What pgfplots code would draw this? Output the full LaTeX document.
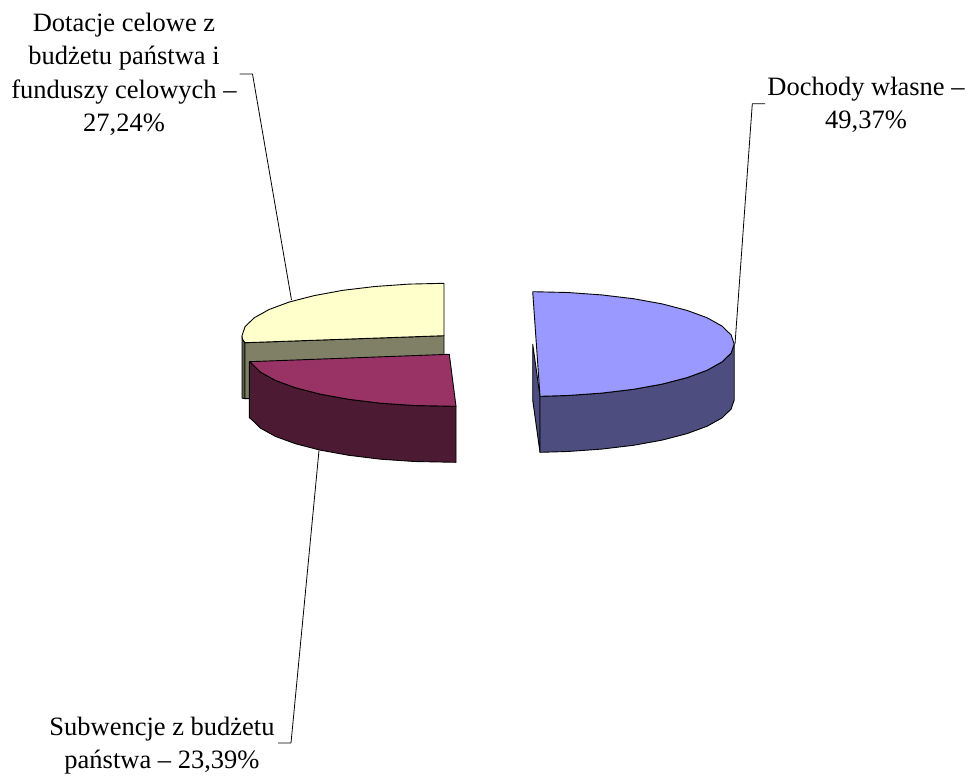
\documentclass[border=0pt]{standalone}
\usepackage{pgfplots}
\pgfplotsset{compat=1.18}
\usepackage{fontspec}
\setmainfont{Liberation Serif}
\definecolor{bluetop}{HTML}{9999FF}
\definecolor{blueside}{HTML}{4D4D80}
\definecolor{yellowtop}{HTML}{FFFFCC}
\definecolor{yellowside}{HTML}{808066}
\definecolor{yellowdark}{HTML}{5C5C49}
\definecolor{maroontop}{HTML}{993366}
\definecolor{maroonside}{HTML}{4D1A33}
\begin{document}
\begin{tikzpicture}
\begin{axis}[
  scale only axis, width=971pt, height=776pt,
  xmin=0, xmax=971, ymin=0, ymax=776, y dir=reverse,
  hide axis, clip=false,
  every axis plot/.append style={line width=0.9pt, line join=round, draw=black},
]
\path (axis cs:0,0) rectangle (axis cs:971,776);
% leader lines
\addplot[line width=0.8pt] coordinates {(239.5,74) (252.5,74) (291.5,300)};
\addplot[line width=0.8pt] coordinates {(278,743) (291,743) (319,450.5)};
\addplot[line width=0.8pt] coordinates {(765,103.7) (752.3,103.7) (735,344)};
% Dotacje celowe: sides
\addplot[fill=yellowdark] coordinates {(242,335.7) (242.5,339.3) (245,342.7) (245,398.7) (242,398) (242,335.7)};
\addplot[fill=yellowside] coordinates {(245,342.7) (444,335.7) (444,391.7) (245,398.7) (245,342.7)};
\addplot[fill=yellowtop] coordinates {(444,283.3) (408.9,284.1) (374.9,286.5) (343,290.3) (314.2,295.6) (289.3,302) (269.1,309.5) (254.2,317.8) (245.1,326.6) (242,335.7) (242.5,339.3) (245,342.7) (444,335.7) (444,283.3)};
% Subwencje: side and top
\addplot[fill=maroonside] coordinates {(249.3,361.7) (251.4,363.3) (260.4,372.1) (275.2,380.3) (295.3,387.7) (320.1,394.1) (348.8,399.3) (380.6,403.2) (414.4,405.5) (456,406.3) (456,462.3) (414.4,461.5) (380.6,459.2) (348.8,455.3) (320.1,450.1) (295.3,443.7) (275.2,436.3) (260.4,428.1) (251.4,419.3) (249.3,417.7) (249.3,361.7)};
\addplot[fill=maroontop] coordinates {(249.3,361.7) (449.3,354.3) (456,406.3) (414.4,405.5) (380.6,403.2) (348.8,399.3) (320.1,394.1) (295.3,387.7) (275.2,380.3) (260.4,372.1) (251.4,363.3) (249.3,361.7)};
% Dochody wlasne: sides and top
\addplot[fill=blueside] coordinates {(532.7,344) (540,396.3) (540,452.3) (532.7,400) (532.7,344)};
\addplot[fill=blueside] coordinates {(734.2,344) (731.1,353.1) (722,361.9) (707.2,370.2) (687.1,377.6) (662.2,384.1) (633.5,389.3) (601.6,393.1) (567.7,395.5) (540,396.3) (540,452.3) (567.7,451.5) (601.6,449.1) (633.5,445.3) (662.2,440.1) (687.1,433.6) (707.2,426.2) (722,417.9) (731.1,409.1) (734.2,400) (734.2,344)};
\addplot[fill=bluetop] coordinates {(532.7,291.7) (567.7,292.5) (601.6,294.9) (633.5,298.7) (662.2,303.9) (687.1,310.4) (707.2,317.8) (722,326.1) (731.1,334.9) (734.2,344) (731.1,353.1) (722,361.9) (707.2,370.2) (687.1,377.6) (662.2,384.1) (633.5,389.3) (601.6,393.1) (567.7,395.5) (540,396.3) (532.7,291.7)};
% labels
\tikzset{lab/.style={anchor=base, inner sep=0pt, font=\fontsize{26.5}{33}\selectfont}}
\node[lab] at (axis cs:124,32) {Dotacje celowe z};
\node[lab] at (axis cs:124,65) {budżetu państwa i};
\node[lab] at (axis cs:124,98) {funduszy celowych –};
\node[lab] at (axis cs:124,131) {27,24\%};
\node[lab] at (axis cs:866,95) {Dochody własne –};
\node[lab] at (axis cs:866,128) {49,37\%};
\node[lab] at (axis cs:162,735) {Subwencje z budżetu};
\node[lab] at (axis cs:162,768) {państwa – 23,39\%};
\end{axis}
\end{tikzpicture}
\end{document}
